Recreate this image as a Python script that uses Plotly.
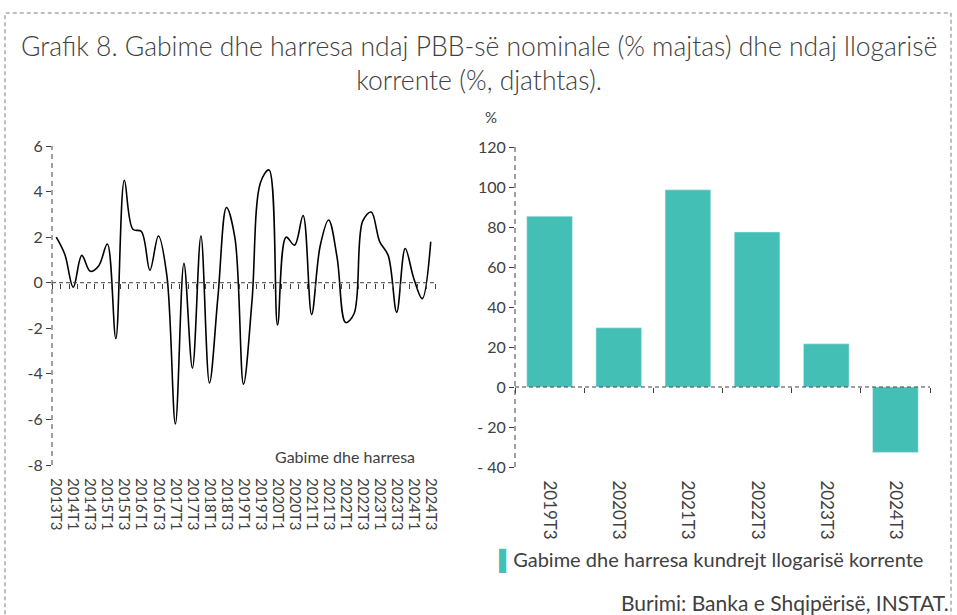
import plotly.graph_objects as go

# --- te dhenat ---
quarters = ["2013T3", "2013T4", "2014T1", "2014T2", "2014T3", "2014T4", "2015T1", "2015T2",
            "2015T3", "2015T4", "2016T1", "2016T2", "2016T3", "2016T4", "2017T1", "2017T2",
            "2017T3", "2017T4", "2018T1", "2018T2", "2018T3", "2018T4", "2019T1", "2019T2",
            "2019T3", "2019T4", "2020T1", "2020T2", "2020T3", "2020T4", "2021T1", "2021T2",
            "2021T3", "2021T4", "2022T1", "2022T2", "2022T3", "2022T4", "2023T1", "2023T2",
            "2023T3", "2023T4", "2024T1", "2024T2", "2024T3"]
gabime_pbb = [2.0, 1.25, -0.2, 1.2, 0.5, 0.75, 1.7, -2.45,
              4.5, 2.35, 2.25, 0.55, 2.05, 0.3, -6.2, 0.85,
              -3.75, 2.05, -4.4, -0.6, 3.3, 1.95, -4.45, -0.8,
              4.4, 4.95, -1.85, 2.0, 1.65, 2.95, -1.4, 1.6,
              2.75, 1.1, -1.75, -1.35, 2.7, 3.1, 1.8, 1.2,
              -1.3, 1.5, 0.2, -0.7, 1.8]

vitet = ["2019T3", "2020T3", "2021T3", "2022T3", "2023T3", "2024T3"]
gabime_ll = [85.4, 29.6, 98.6, 77.5, 21.6, -32.7]

left_ticks = [6, 4, 2, 0, -2, -4, -6, -8]
left_ticktext = ["6", "4", "2", "0", "-2", "-4", "-6", "-8"]
right_ticks = [120, 100, 80, 60, 40, 20, 0, -20, -40]
right_ticktext = ["120", "100", "80", "60", "40", "20", "0", "- 20", "- 40"]

TXT = "#404040"
TEAL = "#44BFB5"
FONT = "Lato"

W, H = 957, 615
def px(x):
    return x / W
def py(y):
    return (H - y) / H

ydom_l = [py(465), py(146)]
ydom_r = [py(467), py(147)]
xdom_l = [px(52), px(435)]
xdom_r = [px(515), px(930)]
zero_l = ydom_l[0] + (8 / 14) * (ydom_l[1] - ydom_l[0])
zero_r = ydom_r[0] + (40 / 160) * (ydom_r[1] - ydom_r[0])

fig = go.Figure()

fig.add_trace(go.Scatter(x=quarters, y=gabime_pbb, mode="lines",
                         line=dict(color="black", width=1.6, shape="spline", smoothing=1),
                         xaxis="x", yaxis="y", showlegend=False))
# nevojitet vetem per boshtin e vizave ne zero
fig.add_trace(go.Scatter(x=quarters, y=gabime_pbb, mode="lines", opacity=0,
                         hoverinfo="skip", xaxis="x3", yaxis="y", showlegend=False))

fig.add_trace(go.Bar(x=vitet, y=gabime_ll, marker=dict(color=TEAL),
                     xaxis="x2", yaxis="y2", showlegend=False))
fig.add_trace(go.Bar(x=vitet, y=gabime_ll, opacity=0, hoverinfo="skip",
                     xaxis="x4", yaxis="y2", showlegend=False))

tickfont = dict(family=FONT, size=16, color=TXT)

fig.update_layout(
    width=W, height=H,
    margin=dict(l=0, r=0, t=0, b=0, autoexpand=False),
    paper_bgcolor="white", plot_bgcolor="white",
    font=dict(family=FONT, color=TXT),
    bargap=0.34,
    xaxis=dict(domain=xdom_l, anchor="y", type="category", range=[-0.5, 44.5],
               tickmode="linear", tick0=0, dtick=2, tickangle=90, automargin=False,
               ticks="outside", ticklen=9, tickcolor="rgba(0,0,0,0)",
               tickfont=dict(family=FONT, size=15, color=TXT),
               showgrid=False, showline=False, zeroline=False),
    xaxis3=dict(overlaying="x", anchor="free", position=zero_l, type="category",
                range=[-0.5, 44.5], tickmode="linear", tick0=0, dtick=1, automargin=False,
                tickson="boundaries", ticks="outside", ticklen=5, tickcolor=TXT,
                showticklabels=False, showgrid=False, showline=False, zeroline=False),
    yaxis=dict(domain=ydom_l, anchor="x", range=[-8, 6], tickvals=left_ticks,
               ticktext=left_ticktext, automargin=False,
               ticks="outside", ticklen=5, tickcolor=TXT, tickfont=tickfont,
               showgrid=False, showline=False, zeroline=False),
    xaxis2=dict(domain=xdom_r, anchor="y2", type="category", range=[-0.5, 5.5],
                tickangle=90, ticks="outside", ticklen=9, tickcolor="rgba(0,0,0,0)",
                automargin=False, tickfont=dict(family=FONT, size=17, color=TXT),
                showgrid=False, showline=False, zeroline=False),
    xaxis4=dict(overlaying="x2", anchor="free", position=zero_r, type="category",
                range=[-0.5, 5.5], tickson="boundaries", ticks="outside", ticklen=5,
                tickcolor=TXT, showticklabels=False, showgrid=False, showline=False,
                zeroline=False, automargin=False),
    yaxis2=dict(domain=ydom_r, anchor="x2", range=[-40, 120], tickvals=right_ticks,
                ticktext=right_ticktext, ticks="outside", ticklen=5, tickcolor=TXT,
                tickfont=tickfont, showgrid=False, showline=False, zeroline=False,
                automargin=False),
)

dash_style = dict(color=TXT, width=1, dash="5px,4px")
shapes = [
    # boshtet vertikale me viza
    dict(type="line", xref="x domain", yref="y domain", x0=0, x1=0, y0=0, y1=1, line=dash_style),
    dict(type="line", xref="x2 domain", yref="y2 domain", x0=0, x1=0, y0=0, y1=1, line=dash_style),
    # vijat e zeros
    dict(type="line", xref="x domain", yref="y", x0=0, x1=1, y0=0, y1=0,
         line=dict(color=TXT, width=1, dash="4px,3px")),
    dict(type="line", xref="x2 domain", yref="y2", x0=0, x1=1, y0=0, y1=0,
         line=dict(color=TXT, width=1, dash="4px,3px"), layer="above"),
    # korniza
    dict(type="rect", xref="paper", yref="paper", x0=px(5), x1=px(951), y0=-0.05, y1=py(13),
         line=dict(color="#7f7f7f", width=1, dash="4px,3px")),
]
fig.update_layout(shapes=shapes)

annotations = [
    dict(text="Grafik 8. Gabime dhe harresa ndaj PBB-së nominale (% majtas) dhe ndaj llogarisë<br>korrente (%, djathtas).",
         xref="paper", yref="paper", x=0.5, y=py(63), xanchor="center", yanchor="middle",
         showarrow=False, font=dict(family=FONT, size=26.5, color=TXT, weight=300)),
    dict(text="Gabime dhe harresa", xref="paper", yref="paper", x=px(345), y=py(456),
         xanchor="center", yanchor="middle", showarrow=False,
         font=dict(family=FONT, size=16, color=TXT)),
    dict(text="%", xref="paper", yref="paper", x=px(491), y=py(117),
         xanchor="center", yanchor="middle", showarrow=False,
         font=dict(family=FONT, size=15, color=TXT)),
    dict(text="<span style='color:" + TEAL + "'>▌</span>Gabime dhe harresa kundrejt llogarisë korrente",
         xref="paper", yref="paper", x=px(497), y=py(560), xanchor="left", yanchor="middle",
         showarrow=False, font=dict(family=FONT, size=20, color=TXT)),
    dict(text="Burimi: Banka e Shqipërisë, INSTAT.", xref="paper", yref="paper",
         x=px(951), y=py(602), xanchor="right", yanchor="middle", showarrow=False,
         font=dict(family=FONT, size=21, color=TXT)),
]
fig.update_layout(annotations=annotations)

# pa hapesire rreth grafikut ne faqe
fig.write_html("out.html", config={"displayModeBar": False},
               post_script="document.body.style.margin='0';")
